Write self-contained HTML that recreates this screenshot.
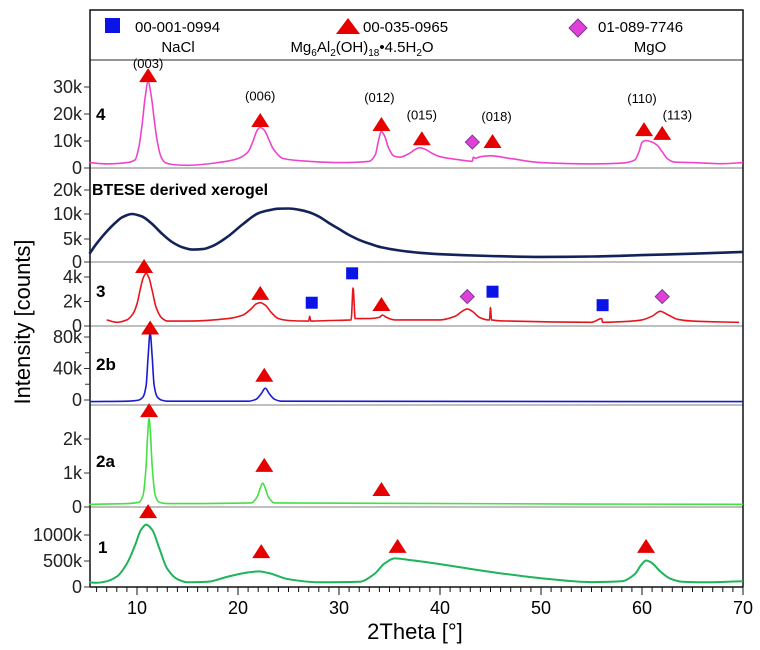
<!DOCTYPE html>
<html><head><meta charset="utf-8"><style>
body{margin:0;background:#fff;}
svg{display:block;font-family:"Liberation Sans",sans-serif;}
</style></head><body>
<svg id="chart" width="760" height="650" viewBox="0 0 760 650" xmlns="http://www.w3.org/2000/svg">
<rect width="760" height="650" fill="#fff"/>
<g id="legend">
 <rect x="105" y="18" width="15" height="15" fill="#0a14e6"/>
 <text x="135" y="32" font-size="15">00-001-0994</text>
 <text x="178" y="52" font-size="15" text-anchor="middle">NaCl</text>
 <polygon points="336,34 348,18 360,34" fill="#e60000"/>
 <text x="363" y="32" font-size="15">00-035-0965</text>
 <text x="362" y="52" font-size="15" text-anchor="middle">Mg<tspan font-size="10" dy="4">6</tspan><tspan dy="-4">Al</tspan><tspan font-size="10" dy="4">2</tspan><tspan dy="-4">(OH)</tspan><tspan font-size="10" dy="4">18</tspan><tspan dy="-4">•4.5H</tspan><tspan font-size="10" dy="4">2</tspan><tspan dy="-4">O</tspan></text>
 <polygon points="578,19 587,28 578,37 569,28" fill="#e040d8" stroke="#7a3a9a" stroke-width="1"/>
 <text x="598" y="32" font-size="15">01-089-7746</text>
 <text x="650" y="52" font-size="15" text-anchor="middle">MgO</text>
</g>
<g id="frame"></g>
<g id="series"></g>
<g id="marks"></g>
<g id="axes"></g>
<text x="415" y="639" font-size="22" text-anchor="middle">2Theta [°]</text>
<text transform="translate(30,322) rotate(-90)" font-size="22" text-anchor="middle">Intensity [counts]</text>
</svg>
<script>
// ---- data ----
const xTicks=[10,20,30,40,50,60,70];
const p4Theta=[5.3,7,9,9.8,10.2,10.5,10.8,11.1,11.4,11.7,12,12.4,12.8,13.5,15,18,20,21,21.5,21.9,22.2,22.6,23,23.5,24.5,27,30,33,33.6,33.9,34.2,34.5,34.9,35.4,36,37,37.6,38,38.5,39.2,40,42,43.2,43.3,43.5,44,45,47,50,55,58,59.3,59.7,60,60.4,60.9,61.5,62,62.5,63.2,65,68,70];
const p4Vals=[2,1.5,2,3,8,16,26,32,27,18,10,4,2,1.3,1,2,3.5,6,10,14,15,14,11,7,3.5,2.5,2,2.5,5,10,13.5,12,7.5,4.5,4,5.5,7,7.5,7,5.5,4.2,3,2.5,4,3.6,4.2,4.5,3.5,2,1.5,1.8,3,6,9.5,10.2,9.7,8.5,6,3.5,2.2,2,1.6,2];
const xgTheta=[5.3,6,7,8,8.5,9.5,10.5,11.5,12.5,13.5,14.5,15.5,16.5,17.5,19,20.5,22,23,24,25,26,27,28,29,30,31,32,33,34,36,38,40,45,50,55,60,65,70];
const xgVals=[1.8,4,6.5,8.5,9.3,10,9.5,8,6,4.3,3.2,2.7,2.8,3.5,5.5,8,10.3,11.5,12.2,12.3,11.8,10.8,9.5,8.2,7,5.8,4.8,4,3.3,2.5,2,1.7,1.3,1.1,1.2,1.5,1.8,2.2];
const p3Theta=[7,8,9,9.6,10,10.3,10.6,10.9,11.2,11.5,11.9,12.4,13,15,19,20.5,21.3,21.8,22.2,22.7,23.3,24,25,27,27.1,27.2,29,31.2,31.4,31.6,33,34,34.3,34.7,35.5,40,41.5,42.2,42.7,43.2,43.9,44.7,44.9,45,45.1,47,55,56,56.1,58,60,61,61.8,62.6,63.5,65,69.6];
const p3Vals=[0.5,0.3,0.5,1,1.8,2.9,3.9,4.3,3.9,2.9,1.5,0.7,0.4,0.4,0.6,0.9,1.4,1.8,1.9,1.7,1.1,0.6,0.45,0.4,0.8,0.4,0.45,0.5,3.1,0.6,0.6,0.7,0.9,0.7,0.5,0.5,0.8,1.2,1.4,1.2,0.7,0.5,0.5,1.5,0.5,0.4,0.3,0.6,0.3,0.35,0.5,0.8,1.2,0.9,0.55,0.4,0.3];
const p2bTheta=[5.3,9,10.2,10.6,10.9,11.1,11.3,11.5,11.7,12,12.4,13,21,21.8,22.3,22.7,23.1,23.6,24.3,70];
const p2bVals=[-2,-1.5,0,4,18,55,86,55,18,4,0,-1.5,-1.5,1,8,15,8,1,-1.5,-2];
const p2aTheta=[5.3,9,10.2,10.6,10.9,11.05,11.2,11.35,11.5,11.8,12.2,13,21.3,21.9,22.2,22.45,22.7,23,23.6,70];
const p2aVals=[0.08,0.1,0.14,0.35,1.2,2.1,2.6,2.1,1.2,0.35,0.14,0.1,0.12,0.3,0.55,0.7,0.55,0.3,0.12,0.08];
const p1Theta=[5.3,6,7,8,9,9.8,10.4,10.9,11.5,12.2,13,14,15,17,19,21,22,23,25,28,32,33.5,34.5,35.5,37,40,45,50,55,58,59.3,59.9,60.4,61,61.8,62.8,64,66,70];
const p1Vals=[90,80,110,200,450,800,1100,1200,1100,750,350,150,90,100,200,280,300,270,150,90,100,250,450,550,520,440,290,170,95,110,250,420,510,460,300,160,100,90,110];
// markers: [theta, value]
const triP4=[[11.1,34.4],[22.2,17.8],[34.2,16.3],[38.2,11],[45.2,10],[60.2,14.4],[62,13]];
const diaP4=[[43.2,9.6]];
const hkl=["(003)","(006)","(012)","(015)","(018)","(110)","(113)"];
const hklTheta=[11.1,22.2,34,38.2,45.6,60,63.5];
const hklVal=[37,25,24.5,18,17.5,24,18];
const triP3=[[10.7,4.9],[22.2,2.7],[34.2,1.8]];
const sqP3=[[27.3,1.9],[31.3,4.3],[45.2,2.8],[56.1,1.7]];
const diaP3=[[42.7,2.4],[62,2.4]];
const tri2b=[[11.3,92],[22.6,32]];
const tri2a=[[11.2,2.85],[22.6,1.24],[34.2,0.53]];
const tri1=[[11.1,1460],[22.3,690],[35.8,790],[60.4,790]];
// tick labels per panel
const p4Ticks=[0,10,20,30], p4TickLabels=["0","10k","20k","30k"];
const xgTicks=[0,5,10,20], xgTickLabels=["0","5k","10k","20k"];
const p3Ticks=[0,2,4], p3TickLabels=["0","2k","4k"];
const p2bTicks=[0,40,80], p2bTickLabels=["0","40k","80k"];
const p2aTicks=[0,1,2], p2aTickLabels=["0","1k","2k"];
const p1Ticks=[0,500,1000], p1TickLabels=["0","500k","1000k"];

// ---- axis functions ----
const L=90,R=743;
function X(t){return 137+(t-10)*10.1;}
function lin(v0,y0,v1,y1){return v=>y0+(v-v0)*(y1-y0)/(v1-v0);}
const Y4=lin(0,168,30,87);
const YX=v=>{if(v<=5)return 262+v*(239-262)/5;if(v<=10)return 239+(v-5)*(214-239)/5;return 214+(v-10)*(190-214)/10;};
const Y3=lin(0,326,4,277);
const Y2b=lin(0,400,80,337);
const Y2a=lin(0,507,2,439);
const Y1=lin(0,587,1000,535);

const NS="http://www.w3.org/2000/svg";
function mk(tag,attrs,parent){const e=document.createElementNS(NS,tag);for(const k in attrs)e.setAttribute(k,attrs[k]);parent.appendChild(e);return e;}
const frame=document.getElementById('frame'),series=document.getElementById('series'),marks=document.getElementById('marks'),axes=document.getElementById('axes');

[60,168,262,326,405,507].forEach((y,i)=>{const l=mk('line',{x1:L,x2:R,y1:y,y2:y,stroke:i==0?'#555':'#999','stroke-width':1.2},frame);

});
const box=mk('path',{d:`M${L},587 L${L},10 L${R},10 L${R},587`,fill:'none',stroke:'#111','stroke-width':1.5},frame);


const xa=mk('line',{x1:L,x2:R,y1:587,y2:587,stroke:'#111','stroke-width':1.5},axes);


for(let t=6;t<=70;t++){const maj=t%10==0;const tk=mk('line',{x1:X(t),x2:X(t),y1:587,y2:maj?595:592,stroke:'#111','stroke-width':1},axes);

}
xTicks.forEach(t=>{const tx=mk('text',{x:X(t),y:614,'font-size':18,'text-anchor':'middle'},axes);tx.textContent=t;

});

function yAxis(ticks,labels,fn,name){ticks.forEach((v,i)=>{const y=fn(v);
const tk=mk('line',{x1:L-6,x2:L,y1:y,y2:y,stroke:'#333','stroke-width':1},axes);


const tx=mk('text',{x:L-8,y:y+6,'font-size':18,'text-anchor':'end',fill:'#222'},axes);tx.textContent=labels[i];

});}
yAxis(p4Ticks,p4TickLabels,Y4,'panel4-y');
yAxis(xgTicks,xgTickLabels,YX,'xerogel-y');
yAxis(p3Ticks,p3TickLabels,Y3,'panel3-y');
yAxis(p2bTicks,p2bTickLabels,Y2b,'panel2b-y');
yAxis(p2aTicks,p2aTickLabels,Y2a,'panel2a-y');
yAxis(p1Ticks,p1TickLabels,Y1,'panel1-y');
[20,60].forEach(v=>{const tk=mk('line',{x1:L-5,x2:L,y1:Y2b(v),y2:Y2b(v),stroke:'#333'},axes);

});

// monotone cubic (Fritsch-Carlson) path in pixel space
function smoothPath(xs,ys){const n=xs.length;const d=[],m=new Array(n);
for(let i=0;i<n-1;i++)d.push((ys[i+1]-ys[i])/(xs[i+1]-xs[i]));
m[0]=d[0];m[n-1]=d[n-2];
for(let i=1;i<n-1;i++){if(d[i-1]*d[i]<=0)m[i]=0;else{const w1=2*(xs[i+1]-xs[i])+(xs[i]-xs[i-1]),w2=(xs[i+1]-xs[i])+2*(xs[i]-xs[i-1]);m[i]=(w1+w2)/(w1/d[i-1]+w2/d[i]);}}
let p='M'+xs[0].toFixed(1)+','+ys[0].toFixed(1);
for(let i=0;i<n-1;i++){const h=(xs[i+1]-xs[i])/3;
p+=` C${(xs[i]+h).toFixed(1)},${(ys[i]+m[i]*h).toFixed(1)} ${(xs[i+1]-h).toFixed(1)},${(ys[i+1]-m[i+1]*h).toFixed(1)} ${xs[i+1].toFixed(1)},${ys[i+1].toFixed(1)}`;}
return p;}
function curve(th,vals,fn,color,name,w){const d=smoothPath(th.map(X),vals.map(fn));
const p=mk('path',{d:d,fill:'none',stroke:color,'stroke-width':w||1.6,'stroke-linejoin':'round'},series);

}
curve(p4Theta,p4Vals,Y4,'#ee44cc','series-4');
curve(xgTheta,xgVals,YX,'#13235a','series-xerogel',2.6);
curve(p3Theta,p3Vals,Y3,'#e8141c','series-3');
curve(p2bTheta,p2bVals,Y2b,'#1a1ad0','series-2b');
curve(p2aTheta,p2aVals,Y2a,'#44e044','series-2a');
curve(p1Theta,p1Vals,Y1,'#1fb35a','series-1',2);

function tri(list,fn,name){list.forEach(([t,v])=>{const x=X(t),y=fn(v);
const p=mk('polygon',{points:`${x-9},${y+7} ${x},${y-7} ${x+9},${y+7}`,fill:'#e60000'},marks);

});}
function sq(list,fn,name){list.forEach(([t,v])=>{const x=X(t),y=fn(v);
const p=mk('rect',{x:x-6,y:y-6,width:12,height:12,fill:'#0a14e6'},marks);

});}
function dia(list,fn,name){list.forEach(([t,v])=>{const x=X(t),y=fn(v);
const p=mk('polygon',{points:`${x},${y-7} ${x+7},${y} ${x},${y+7} ${x-7},${y}`,fill:'#e040d8',stroke:'#7a3a9a','stroke-width':1},marks);

});}
tri(triP4,Y4,'ldh-marker-4');dia(diaP4,Y4,'mgo-marker-4');
tri(triP3,Y3,'ldh-marker-3');sq(sqP3,Y3,'nacl-marker-3');dia(diaP3,Y3,'mgo-marker-3');
tri(tri2b,Y2b,'ldh-marker-2b');tri(tri2a,Y2a,'ldh-marker-2a');tri(tri1,Y1,'ldh-marker-1');
hkl.forEach((s,i)=>{const tx=mk('text',{x:X(hklTheta[i]),y:Y4(hklVal[i]),'font-size':13,'text-anchor':'middle'},marks);tx.textContent=s;

});

const plabels=[["4",96,120],["BTESE derived xerogel",92,195],["3",96,297],["2b",96,370],["2a",96,467],["1",98,553]];
plabels.forEach(([s,x,y])=>{const tx=mk('text',{x:x,y:y,'font-size':s.length>3?16:17,'font-weight':'bold'},marks);tx.textContent=s;

});
</script>
</body></html>
